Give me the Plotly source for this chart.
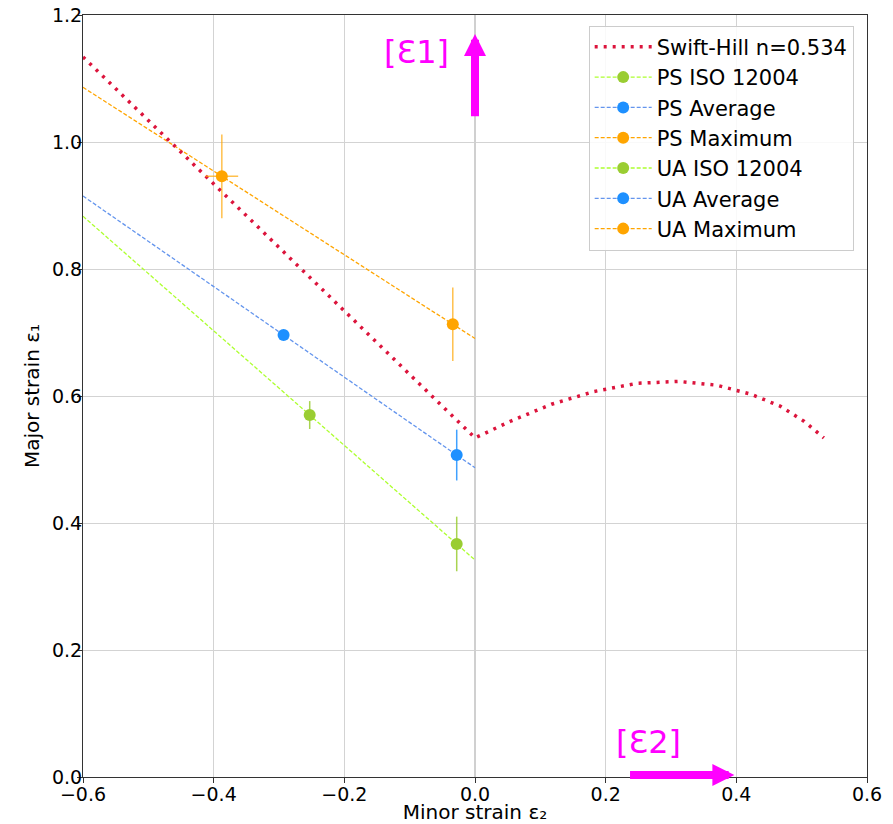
import plotly.graph_objects as go

# ---- data ----
n_value = 0.534
sh_e2 = [-0.6, 0.0, 0.056, 0.117, 0.182, 0.248, 0.312, 0.370, 0.422, 0.467, 0.504, 0.534]
sh_e1 = [1.134, 0.534, 0.561, 0.587, 0.607, 0.620, 0.623, 0.617, 0.603, 0.584, 0.560, 0.534]

series_names = ["ISO 12004", "Average", "Maximum"]
ps_x = [-0.253, -0.293, -0.3875]
ps_y = [0.570, 0.696, 0.946]
ps_err_y = [0.022, 0.0, 0.066]
ps_err_x = [0.0, 0.0, 0.025]

ua_x = [-0.028, -0.028, -0.034]
ua_y = [0.367, 0.507, 0.713]
ua_err_y = [0.043, 0.040, 0.058]
ua_err_x = [0.0, 0.0, 0.0]

line_x_range = [-0.6, 0.0]

marker_colors = ["#9ACD32", "#1E90FF", "#FFA500"]
line_colors = ["#ADFF2F", "#6495ED", "#FFA500"]
err_colors = ["rgba(154,205,50,0.85)", "rgba(30,144,255,0.85)", "rgba(255,165,0,0.7)"]

x_ticks = [-0.6, -0.4, -0.2, 0.0, 0.2, 0.4, 0.6]
y_ticks = [0.0, 0.2, 0.4, 0.6, 0.8, 1.0, 1.2]

FONT = "DejaVu Sans"
fig = go.Figure()

# fit lines through PS and UA points, extended over line_x_range
for i in range(3):
    slope = (ps_y[i] - ua_y[i]) / (ps_x[i] - ua_x[i])
    ys = [ua_y[i] + slope * (xv - ua_x[i]) for xv in line_x_range]
    fig.add_trace(go.Scatter(
        x=line_x_range, y=ys, mode="lines",
        line=dict(color=line_colors[i], width=1.3, dash="4px,2px"),
        showlegend=False, hoverinfo="skip"))

# Swift-Hill curve
fig.add_trace(go.Scatter(
    x=sh_e2, y=sh_e1, mode="lines",
    name=f"Swift-Hill n={n_value}",
    line=dict(color="#DC143C", width=3.5, dash="3px,6px"),
    legendgroup="g0"))

def add_points(prefix, xs, ys, ex, ey, gstart):
    for i in range(3):
        fig.add_trace(go.Scatter(
            x=[xs[i]], y=[ys[i]], mode="lines+markers",
            name=f"{prefix} {series_names[i]}",
            marker=dict(color=marker_colors[i], size=12),
            line=dict(color=line_colors[i], width=1.3, dash="4px,2px"),
            error_y=dict(type="data", array=[ey[i]], color=err_colors[i],
                         thickness=1.5, width=0, visible=ey[i] > 0),
            error_x=dict(type="data", array=[ex[i]], color=err_colors[i],
                         thickness=1.5, width=0, visible=ex[i] > 0),
            legendgroup=f"g{gstart + i}"))

add_points("PS", ps_x, ps_y, ps_err_x, ps_err_y, 1)
add_points("UA", ua_x, ua_y, ua_err_x, ua_err_y, 4)

# arrows and labels
fig.add_annotation(x=0.0, y=1.17, ax=0.0, ay=1.038, xref="x", yref="y",
                   axref="x", ayref="y", showarrow=True, text="",
                   arrowhead=2, arrowsize=0.55, arrowwidth=8, arrowcolor="#FF00FF")
fig.add_annotation(x=0.397, y=0.003, ax=0.235, ay=0.003, xref="x", yref="y",
                   axref="x", ayref="y", showarrow=True, text="",
                   arrowhead=2, arrowsize=0.55, arrowwidth=8, arrowcolor="#FF00FF")
fig.add_annotation(x=-0.089, y=1.142, xref="x", yref="y", text="[Ɛ1]",
                   showarrow=False, font=dict(family=FONT, size=32, color="#FF00FF"))
fig.add_annotation(x=0.265, y=0.055, xref="x", yref="y", text="[Ɛ2]",
                   showarrow=False, font=dict(family=FONT, size=32, color="#FF00FF"))

axis_common = dict(
    showgrid=True, gridcolor="#d3d3d3", gridwidth=1,
    showline=True, linecolor="#333333", linewidth=1.2, mirror=True,
    ticks="outside", ticklen=5, tickcolor="#333333",
    tickfont=dict(family=FONT, size=19, color="black"),
    tickformat=".1f", automargin=False,
    ticklabeloverflow="allow",
)

fig.update_xaxes(range=[-0.6, 0.6], tickvals=x_ticks, ticklabelstandoff=-5,
                 title=dict(text="Minor strain ε₂", font=dict(family=FONT, size=20, color="black"), standoff=0),
                 zeroline=True, zerolinecolor="#d0d0d0", zerolinewidth=2,
                 **axis_common)
fig.update_yaxes(range=[0, 1.2], tickvals=y_ticks, ticklabelstandoff=-9,
                 title=dict(text="Major strain ε₁", font=dict(family=FONT, size=20, color="black"), standoff=6),
                 zeroline=True, zerolinecolor="#808080", zerolinewidth=3,
                 **axis_common)

fig.update_layout(
    width=893, height=824,
    margin=dict(l=83, r=26, t=15, b=47),
    plot_bgcolor="white", paper_bgcolor="white",
    font=dict(family=FONT, color="black"),
    legend=dict(x=0.645, y=0.986, xanchor="left", yanchor="top",
                bgcolor="rgba(255,255,255,0.85)", bordercolor="#cccccc", borderwidth=1,
                font=dict(family=FONT, size=21, color="black"),
                tracegroupgap=0, itemwidth=57),
)

fig.write_html("out.html", config={"displayModeBar": False},
               post_script="document.body.style.margin='0';")
